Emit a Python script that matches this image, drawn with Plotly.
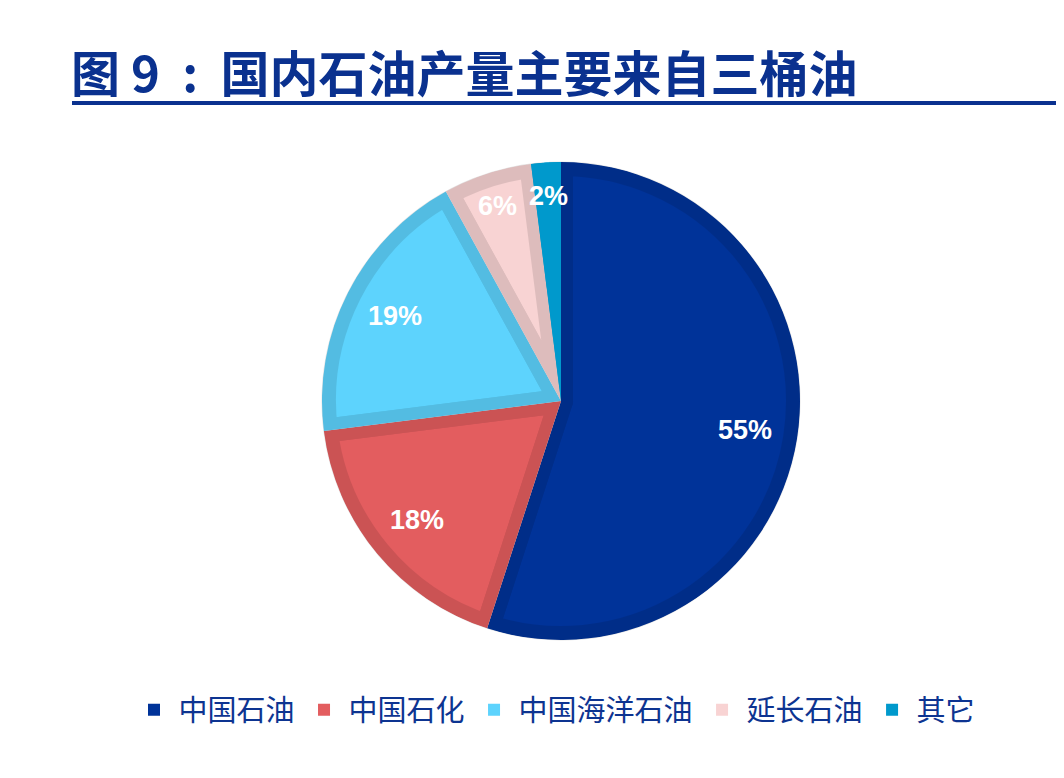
import math
import plotly.graph_objects as go

# ---- data ----
companies = ["中国石油", "中国石化", "中国海洋石油", "延长石油", "其它"]
shares = [55, 18, 19, 6, 2]
colors = ["#003399", "#e35d5f", "#5dd3fd", "#f8d3d3", "#0099cc"]
title_text = "图\u00a09\u00a0\u00a0:\u00a0\u00a0国内石油产量主要来自三桶油"

# ---- layout constants (pixels, page offset of 8px removed) ----
W, H = 1064, 778
OFF = 8
CX, CY, R = 561 - OFF, 401 - OFF, 239
STROKE = 24          # darker inner border (half lies inside each slice edge)
ARC_SHIFT = 2        # border trace radius offset
TITLE_COLOR = "#0a318f"


def dom(r):
    return dict(x=[(CX - r) / W, (CX + r) / W],
                y=[1 - (CY + r) / H, 1 - (CY - r) / H])


fig = go.Figure()

# main slices
fig.add_trace(go.Pie(
    labels=companies, values=shares, sort=False, direction="clockwise", rotation=0,
    marker=dict(colors=colors, line=dict(width=0)),
    textinfo="none", domain=dom(R), showlegend=True, hoverinfo="label+percent",
))

# darker inner border of each slice (uniform darkening via trace opacity)
line_w = [0 if v / sum(shares) < 0.05 else STROKE for v in shares]
fig.add_trace(go.Pie(
    labels=companies, values=shares, sort=False, direction="clockwise", rotation=0,
    marker=dict(colors=["rgba(0,0,0,0)"] * len(shares), line=dict(color="black", width=line_w)),
    textinfo="none", domain=dom(R - ARC_SHIFT), opacity=0.1, showlegend=False, hoverinfo="skip",
))

# the smallest slice has no border: redraw it on top
small_cols = [c if v / sum(shares) < 0.05 else "rgba(0,0,0,0)" for c, v in zip(colors, shares)]
fig.add_trace(go.Pie(
    labels=companies, values=shares, sort=False, direction="clockwise", rotation=0,
    marker=dict(colors=small_cols, line=dict(width=0)),
    textinfo="none", domain=dom(R), showlegend=False, hoverinfo="skip",
))

# percentage labels placed along each slice's mid angle
total = sum(shares)
cum = 0
for v in shares:
    mid = (cum + v / 2) / total * 2 * math.pi
    cum += v
    f = 0.78 if v / total > 0.1 else 0.86
    px = CX + f * R * math.sin(mid)
    py = CY - f * R * math.cos(mid)
    fig.add_annotation(
        x=px / W, y=1 - py / H, xref="paper", yref="paper",
        text=f"{v}%", showarrow=False, xanchor="center", yanchor="middle",
        font=dict(family="Arial, Liberation Sans, sans-serif", size=27, color="white", weight="bold"),
    )

# white ring to trim border spill outside the pie
pad = 8
fig.add_shape(type="circle", xref="paper", yref="paper",
              x0=(CX - R - pad) / W, x1=(CX + R + pad) / W,
              y0=1 - (CY + R + pad) / H, y1=1 - (CY - R - pad) / H,
              line=dict(color="white", width=2 * pad - 1), fillcolor="rgba(0,0,0,0)", layer="above")

# title underline
fig.add_shape(type="line", xref="paper", yref="paper",
              x0=(72 - OFF) / W, x1=1, y0=1 - (103 - OFF) / H, y1=1 - (103 - OFF) / H,
              line=dict(color=TITLE_COLOR, width=4))

fig.update_layout(
    width=W, height=H,
    margin=dict(l=0, r=0, t=0, b=0),
    paper_bgcolor="white", plot_bgcolor="white",
    title=dict(text=title_text, x=(71 - OFF) / W, xanchor="left", xref="paper",
               y=1 - (75 - OFF) / H, yanchor="middle", yref="paper",
               font=dict(family="Noto Sans CJK SC", size=49, color=TITLE_COLOR, weight="bold")),
    legend=dict(orientation="h", x=(555 - OFF) / W, xanchor="center", y=1 - (710 - OFF) / H,
                yanchor="middle", itemwidth=39,
                font=dict(family="Noto Sans CJK SC", size=29, color="#0d3491"),
                bgcolor="rgba(0,0,0,0)"),
)

fig.write_html("out.html")
